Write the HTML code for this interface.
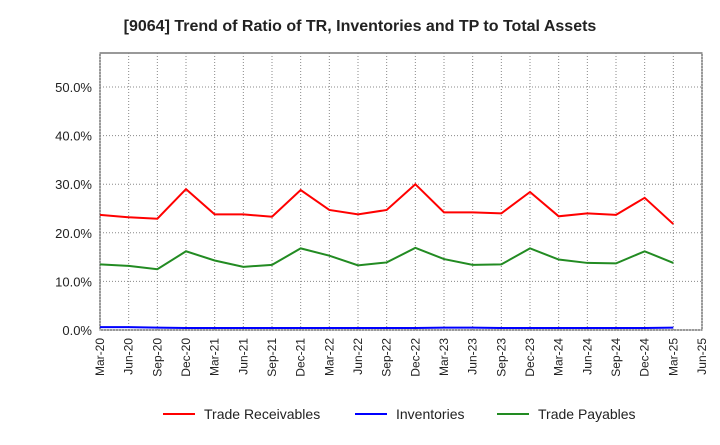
<!DOCTYPE html>
<html><head><meta charset="utf-8"><style>
body{margin:0;background:#fff;font-family:"Liberation Sans",sans-serif}
</style></head><body>
<svg id="chart" width="720" height="440" xmlns="http://www.w3.org/2000/svg">
<text x="360" y="31" text-anchor="middle" font-size="16" font-weight="bold" fill="#222">[9064]  Trend of Ratio of TR, Inventories and TP to Total Assets</text>
<g id="grid"></g><g id="axes"></g><g id="series"></g>
<g>
<line x1="163" y1="414" x2="195" y2="414" stroke="#f00" stroke-width="2"/>
<text x="204" y="419" font-size="14" fill="#222">Trade Receivables</text>
<line x1="355" y1="414" x2="387" y2="414" stroke="#00f" stroke-width="2"/>
<text x="396" y="419" font-size="14" fill="#222">Inventories</text>
<line x1="497" y1="414" x2="529" y2="414" stroke="#228b22" stroke-width="2"/>
<text x="538" y="419" font-size="14" fill="#222">Trade Payables</text>
</g>
</svg>
<script>
const xLabels=["Mar-20","Jun-20","Sep-20","Dec-20","Mar-21","Jun-21","Sep-21","Dec-21","Mar-22","Jun-22","Sep-22","Dec-22","Mar-23","Jun-23","Sep-23","Dec-23","Mar-24","Jun-24","Sep-24","Dec-24","Mar-25","Jun-25"];
const yTicks=[0,10,20,30,40,50];
const tradeReceivables=[23.7,23.2,22.9,29.0,23.8,23.8,23.3,28.8,24.7,23.8,24.7,30.0,24.2,24.2,24.0,28.4,23.4,24.0,23.7,27.2,21.8];
const inventories=[0.6,0.6,0.5,0.4,0.4,0.4,0.4,0.4,0.4,0.4,0.4,0.4,0.5,0.5,0.4,0.4,0.4,0.4,0.4,0.4,0.5];
const tradePayables=[13.5,13.2,12.5,16.2,14.3,13.0,13.4,16.8,15.3,13.3,13.9,16.9,14.6,13.4,13.5,16.8,14.5,13.8,13.7,16.2,13.8];
const NS="http://www.w3.org/2000/svg";
const L=100,R=702,T=53,B=330,YMAX=57;
const xs=i=>L+i*(R-L)/(xLabels.length-1);
const ys=v=>B-v/YMAX*(B-T);
function mk(t,a,p){const e=document.createElementNS(NS,t);for(const k in a)e.setAttribute(k,a[k]);p.appendChild(e);return e;}
const grid=document.getElementById('grid'),axes=document.getElementById('axes'),ser=document.getElementById('series');
mk('rect',{x:L,y:T,width:R-L,height:B-T,fill:'#fff',stroke:'#333','stroke-width':1},grid);
xLabels.forEach((lab,i)=>{
 const x=xs(i);
 const g=mk('line',{x1:x,y1:T,x2:x,y2:B,stroke:'#888','stroke-dasharray':'1,2','stroke-width':1},grid);
 
 
 const t=mk('text',{x:x+4,y:B+8,'font-size':12,fill:'#222','text-anchor':'end',transform:`rotate(-90 ${x+4} ${B+8})`},axes);
 t.textContent=lab;
 
 
});
yTicks.forEach(v=>{
 const y=ys(v);
 const g=mk('line',{x1:L,y1:y,x2:R,y2:y,stroke:'#888','stroke-dasharray':'1,2','stroke-width':1},grid);
 
 
 const t=mk('text',{x:L-8,y:y+5,'font-size':13,fill:'#222','text-anchor':'end'},axes);
 t.textContent=v.toFixed(1)+'%';
 
 
});
[[tradeReceivables,'#f00','trade-receivables-line'],[inventories,'#00f','inventories-line'],[tradePayables,'#228b22','trade-payables-line']].forEach(([d,c,n])=>{
 const p=mk('polyline',{points:d.map((v,i)=>xs(i)+','+ys(v)).join(' '),fill:'none',stroke:c,'stroke-width':2},ser);
 
 
});
</script>
</body></html>
